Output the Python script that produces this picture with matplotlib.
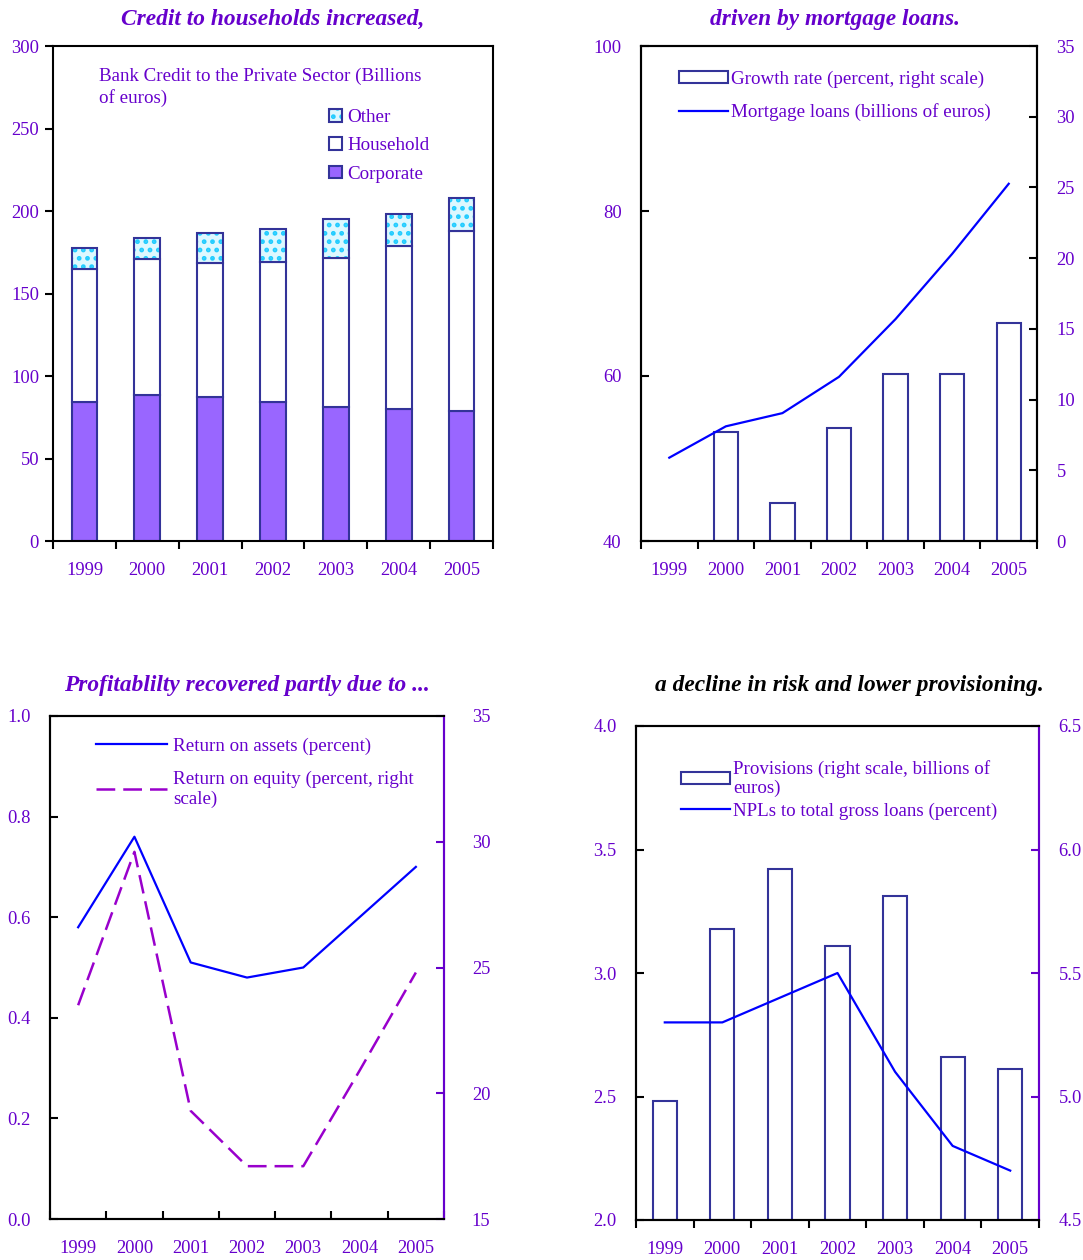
import numpy as np
import matplotlib
matplotlib.use("Agg")
import matplotlib.pyplot as plt
from matplotlib.patches import Patch
from matplotlib.lines import Line2D

plt.rcParams['font.family'] = ['Liberation Serif', 'DejaVu Serif']
plt.rcParams['hatch.linewidth'] = 2.2

purple = '#6600CC'
navy = '#333399'
blue = '#0000FF'
dash_purple = '#9900CC'

years = ['1999', '2000', '2001', '2002', '2003', '2004', '2005']

# bank credit to the private sector (billions of euros)
corporate = [84.2, 88.3, 87.3, 84.2, 81.0, 79.8, 78.6]
household = [80.5, 82.4, 81.4, 85.1, 90.7, 99.2, 109.3]
other = [12.7, 13.1, 17.8, 20.0, 23.3, 19.2, 19.8]

# mortgage loans
growth_rate = [np.nan, 7.7, 2.7, 8.0, 11.8, 11.8, 15.4]
mortgage = [50.1, 53.9, 55.5, 59.9, 66.9, 74.8, 83.3]

# profitability
roa = [0.58, 0.76, 0.51, 0.48, 0.50, 0.60, 0.70]
roe = [23.5, 29.6, 19.3, 17.1, 17.1, 20.9, 24.8]

# risk and provisioning
provisions = [4.98, 5.68, 5.92, 5.61, 5.81, 5.16, 5.11]
npl = [2.80, 2.80, 2.90, 3.00, 2.60, 2.30, 2.20]

W, H = 1083, 1260
fig = plt.figure(figsize=(W / 100, H / 100), dpi=100)

TICK_FS = 13.3
LEG_FS = 13.7


def box(l, t, r, b):
    return [l / W, 1 - b / H, (r - l) / W, (b - t) / H]


x = np.arange(len(years))


def style_x(ax, tickdir):
    ax.set_xlim(-0.5, len(years) - 0.5)
    ax.set_xticks(x)
    ax.set_xticklabels(years)
    ax.set_xticks(np.arange(-0.5, len(years)), minor=True)
    ax.tick_params(axis='x', which='major', length=0, pad=15, labelsize=TICK_FS, labelcolor=purple)
    ax.tick_params(axis='x', which='minor', length=6, width=1.5, direction=tickdir)


def style_spines(ax, right_color='black'):
    for s in ax.spines.values():
        s.set_linewidth(1.5)
        s.set_color('black')
    ax.spines['right'].set_color(right_color)


def title(xc, yc, txt, color=purple):
    fig.text(xc / W, 1 - yc / H, txt, fontsize=16.8, fontweight='bold', style='italic',
             color=color, ha='center', va='center')


# ---- panel 1: stacked bars
ax1 = fig.add_axes(box(53, 46, 493, 541))
bw = 0.41
ax1.bar(x, corporate, bw, color='#9966FF', edgecolor=navy, linewidth=1.5, zorder=2)
ax1.bar(x, household, bw, bottom=corporate, color='white', edgecolor=navy, linewidth=1.5, zorder=2)
bot2 = np.array(corporate) + np.array(household)
ax1.bar(x, other, bw, bottom=bot2, color='#DDF8FF', edgecolor='#22CCFF', hatch='..', linewidth=0, zorder=2)
ax1.bar(x, other, bw, bottom=bot2, fill=False, edgecolor=navy, linewidth=1.5, zorder=3)
ax1.set_ylim(0, 300)
ax1.set_yticks(np.arange(0, 301, 50))
ax1.tick_params(axis='y', direction='out', length=6, width=1.5, pad=4, labelsize=TICK_FS, labelcolor=purple)
style_x(ax1, 'out')
style_spines(ax1)
title(273, 19, 'Credit to households increased,')
ax1.text(0.105, 0.956, 'Bank Credit to the Private Sector (Billions\nof euros)', transform=ax1.transAxes,
         fontsize=LEG_FS, color=purple, va='top', ha='left', linespacing=1.3)
h_other = (Patch(facecolor='#DDF8FF', edgecolor='#22CCFF', hatch='..', linewidth=0),
           Patch(fill=False, edgecolor=navy, linewidth=1.5))
h_house = Patch(facecolor='white', edgecolor=navy, linewidth=1.5)
h_corp = Patch(facecolor='#9966FF', edgecolor=navy, linewidth=1.5)
ax1.legend([h_other, h_house, h_corp], ['Other', 'Household', 'Corporate'], loc='upper left',
           bbox_to_anchor=(0.628, 0.873), frameon=False, fontsize=LEG_FS, labelcolor=purple,
           handlelength=0.65, handleheight=0.65, handletextpad=0.3, labelspacing=0.6, borderpad=0,
           borderaxespad=0)

# ---- panel 2: mortgage
ax2 = fig.add_axes(box(641, 46, 1037, 541))
ax2r = ax2.twinx()
ax2r.bar(x, growth_rate, 0.43, color='white', edgecolor=navy, linewidth=1.5)
ax2r.set_ylim(0, 35)
ax2r.set_yticks(np.arange(0, 36, 5))
ax2.plot(x, mortgage, color=blue, linewidth=1.6)
ax2.set_ylim(40, 100)
ax2.set_yticks([40, 60, 80, 100])
ax2.set_zorder(ax2r.get_zorder() + 1)
ax2.patch.set_visible(False)
ax2.tick_params(axis='y', direction='in', length=6, width=1.5, pad=14, labelsize=TICK_FS, labelcolor=purple)
ax2r.tick_params(axis='y', direction='in', length=6, width=1.5, pad=14, labelsize=TICK_FS, labelcolor=purple)
style_x(ax2, 'out')
style_spines(ax2)
style_spines(ax2r)
title(835, 19, 'driven by mortgage loans.')
ax2.legend([Patch(facecolor='white', edgecolor=navy, linewidth=1.5), Line2D([], [], color=blue, linewidth=1.6)],
           ['Growth rate (percent, right scale)', 'Mortgage loans (billions of euros)'],
           loc='upper left', bbox_to_anchor=(0.096, 0.95), frameon=False, fontsize=LEG_FS, labelcolor=purple,
           handlelength=2.55, handleheight=0.6, handletextpad=0.2, labelspacing=0.8, borderpad=0,
           borderaxespad=0)

# ---- panel 3: profitability
ax3 = fig.add_axes(box(50, 716, 444, 1219))
ax3r = ax3.twinx()
l1, = ax3.plot(x, roa, color=blue, linewidth=1.6)
l2, = ax3r.plot(x, roe, color=dash_purple, linewidth=1.8, dashes=(7.5, 3.2))
ax3.set_ylim(0, 1.0)
ax3.set_yticks(np.arange(0, 1.01, 0.2))
ax3.yaxis.set_major_formatter(matplotlib.ticker.FormatStrFormatter('%.1f'))
ax3r.set_ylim(15, 35)
ax3r.set_yticks(np.arange(15, 36, 5))
ax3.tick_params(axis='y', direction='in', length=6, width=1.5, pad=14, labelsize=TICK_FS, labelcolor=purple)
ax3r.tick_params(axis='y', direction='in', length=6, width=1.5, pad=20, labelsize=TICK_FS, labelcolor=purple,
                 color=purple)
style_x(ax3, 'in')
style_spines(ax3, purple)
style_spines(ax3r, purple)
title(247, 686, 'Profitablilty recovered partly due to ...')
ax3.legend([l1, l2], ['Return on assets (percent)', 'Return on equity (percent, right\nscale)'],
           loc='upper left', bbox_to_anchor=(0.117, 0.958), frameon=False, fontsize=LEG_FS, labelcolor=purple,
           handlelength=3.75, handletextpad=0.3, labelspacing=0.85, borderpad=0, borderaxespad=0)

# ---- panel 4: risk
ax4 = fig.add_axes(box(636, 726, 1039, 1220))
ax4r = ax4.twinx()
ax4r.bar(x, np.array(provisions) - 4.5, 0.42, bottom=4.5, color='white', edgecolor=navy, linewidth=1.5)
ax4r.set_ylim(4.5, 6.5)
ax4r.set_yticks(np.arange(4.5, 6.51, 0.5))
ax4r.yaxis.set_major_formatter(matplotlib.ticker.FormatStrFormatter('%.1f'))
ax4.plot(x, npl, color=blue, linewidth=1.6)
ax4.set_ylim(2.0, 4.0)
ax4.set_yticks(np.arange(2.0, 4.01, 0.5))
ax4.yaxis.set_major_formatter(matplotlib.ticker.FormatStrFormatter('%.1f'))
ax4.set_zorder(ax4r.get_zorder() + 1)
ax4.patch.set_visible(False)
ax4.tick_params(axis='y', direction='in', length=6, width=1.5, pad=14, labelsize=TICK_FS, labelcolor=purple)
ax4r.tick_params(axis='y', direction='in', length=6, width=1.5, pad=14, labelsize=TICK_FS, labelcolor=purple,
                 color=purple)
style_x(ax4, 'out')
style_spines(ax4, purple)
style_spines(ax4r, purple)
title(849, 686, 'a decline in risk and lower provisioning.', color='black')
ax4.legend([Patch(facecolor='white', edgecolor=navy, linewidth=1.5), Line2D([], [], color=blue, linewidth=1.6)],
           ['Provisions (right scale, billions of\neuros)', 'NPLs to total gross loans (percent)'],
           loc='upper left', bbox_to_anchor=(0.112, 0.932), frameon=False, fontsize=LEG_FS, labelcolor=purple,
           handlelength=2.55, handleheight=0.6, handletextpad=0.2, labelspacing=0.25, borderpad=0,
           borderaxespad=0)

fig.savefig('out.png', dpi=100)
